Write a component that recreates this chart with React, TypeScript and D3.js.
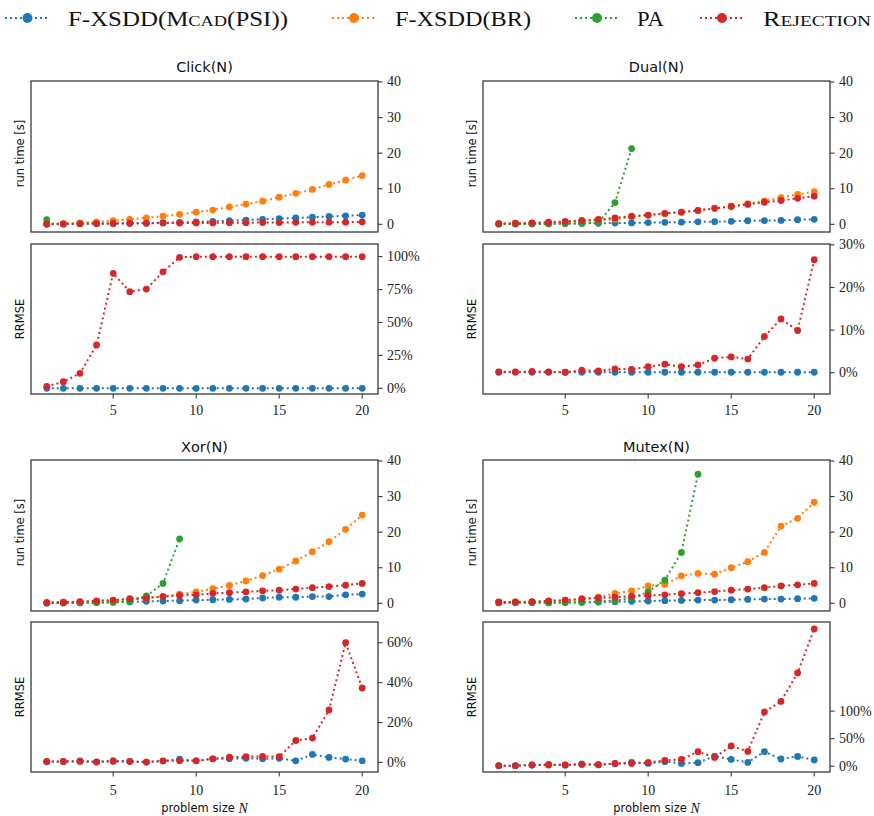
import React from "react";
import * as d3 from "d3";

const problemSizes = [1, 2, 3, 4, 5, 6, 7, 8, 9, 10, 11, 12, 13, 14, 15, 16, 17, 18, 19, 20];
const xTicks = [5, 10, 15, 20];
const runtimeTicks = [0, 10, 20, 30, 40];

const seriesNames = ["mcad", "br", "pa", "rej"];
const seriesColors = ["#1f77b4", "#ff7f0e", "#2ca02c", "#d62728"];

// Click(N)
const clickRuntimeMcad = [0.02, 0.05, 0.1, 0.15, 0.2, 0.3, 0.35, 0.45, 0.55, 0.7, 0.85, 1.0, 1.2, 1.4, 1.6, 1.8, 2.0, 2.2, 2.4, 2.6];
const clickRuntimeBR = [0.1, 0.2, 0.4, 0.7, 1.0, 1.4, 1.8, 2.3, 2.8, 3.4, 4.0, 4.9, 5.7, 6.5, 7.6, 8.7, 9.8, 11.2, 12.4, 13.7];
const clickRuntimePA = [1.3];
const clickRuntimeRej = [0.1, 0.15, 0.2, 0.2, 0.25, 0.3, 0.3, 0.35, 0.35, 0.4, 0.4, 0.45, 0.45, 0.5, 0.5, 0.55, 0.55, 0.6, 0.6, 0.65];
const clickRrmseMcad = [0, 0, 0, 0, 0, 0, 0, 0, 0, 0, 0, 0, 0, 0, 0, 0, 0, 0, 0, 0];
const clickRrmseRej = [1.5, 5, 11.4, 32.9, 87.3, 73.4, 75.4, 88.5, 99.5, 100, 100, 100, 100, 100, 100, 100, 100, 100, 100, 100];
const clickRrmseTicks = [0, 25, 50, 75, 100];

// Dual(N)
const dualRuntimeMcad = [0.1, 0.1, 0.15, 0.2, 0.2, 0.25, 0.3, 0.35, 0.4, 0.5, 0.55, 0.6, 0.7, 0.75, 0.85, 1.0, 1.05, 1.1, 1.3, 1.4];
const dualRuntimeBR = [0.1, 0.2, 0.3, 0.5, 0.6, 0.9, 1.1, 1.4, 2.1, 2.6, 3.0, 3.4, 3.9, 4.5, 5.1, 5.8, 6.6, 7.5, 8.4, 9.2];
const dualRuntimePA = [0.1, 0.1, 0.1, 0.1, 0.2, 0.3, 0.5, 6.1, 21.3];
const dualRuntimeRej = [0.2, 0.3, 0.4, 0.6, 0.8, 1.1, 1.4, 1.8, 2.3, 2.6, 3.1, 3.4, 3.9, 4.5, 5.0, 5.6, 6.2, 6.7, 7.3, 7.9];
const dualRrmseMcad = [0.1, 0.1, 0.1, 0.1, 0.1, 0.1, 0.1, 0.1, 0.1, 0.1, 0.1, 0.1, 0.1, 0.1, 0.1, 0.1, 0.1, 0.1, 0.1, 0.1];
const dualRrmseRej = [0.2, 0.2, 0.3, 0.2, 0.1, 0.6, 0.4, 0.9, 0.8, 1.4, 2.0, 1.4, 1.8, 3.4, 3.7, 3.2, 8.5, 12.6, 9.9, 26.5];
const dualRrmseTicks = [0, 10, 20, 30];

// Xor(N)
const xorRuntimeMcad = [0.05, 0.1, 0.15, 0.2, 0.3, 0.4, 0.55, 0.65, 0.75, 0.9, 1.0, 1.1, 1.2, 1.5, 1.7, 1.7, 1.9, 1.9, 2.4, 2.6];
const xorRuntimeBR = [0.2, 0.3, 0.4, 0.6, 0.8, 1.1, 1.5, 1.9, 2.6, 3.2, 4.1, 5.0, 6.3, 7.8, 9.6, 11.9, 14.5, 17.3, 20.8, 24.8];
const xorRuntimePA = [0.1, 0.1, 0.1, 0.2, 0.3, 0.6, 2.1, 5.6, 18.1];
const xorRuntimeRej = [0.2, 0.3, 0.5, 0.7, 0.9, 1.3, 1.5, 1.9, 2.2, 2.4, 2.8, 3.0, 3.2, 3.5, 3.7, 4.0, 4.4, 4.7, 5.1, 5.6];
const xorRrmseMcad = [0.3, 0.4, 0.8, 0.3, 0.9, 0.5, 0.2, 0.7, 1.6, 0.8, 1.8, 1.9, 2.1, 1.8, 2.1, 0.8, 4.0, 2.5, 1.7, 0.8];
const xorRrmseRej = [0.5, 0.5, 0.5, 0.2, 0.5, 0.5, 0.2, 0.8, 0.8, 0.8, 1.8, 2.6, 2.9, 3.0, 2.9, 11.0, 12.2, 26.3, 60, 37.3];
const xorRrmseTicks = [0, 20, 40, 60];

// Mutex(N)
const mutexRuntimeMcad = [0.1, 0.15, 0.2, 0.2, 0.25, 0.3, 0.35, 0.45, 0.55, 0.65, 0.75, 0.8, 0.9, 0.9, 1.0, 1.1, 1.2, 1.2, 1.3, 1.4];
const mutexRuntimeBR = [0.3, 0.3, 0.4, 0.6, 0.8, 1.1, 1.7, 2.8, 3.5, 4.9, 5.3, 7.7, 8.4, 8.2, 10.0, 11.7, 14.3, 21.7, 23.9, 28.4];
const mutexRuntimePA = [0.4, 0.3, 0.2, 0.1, 0.2, 0.3, 0.5, 0.8, 1.4, 3.3, 6.5, 14.3, 36.3];
const mutexRuntimeRej = [0.3, 0.4, 0.5, 0.7, 0.9, 1.3, 1.5, 1.7, 2.0, 2.2, 2.4, 2.7, 3.0, 3.3, 3.7, 4.0, 4.4, 4.9, 5.2, 5.6];
const mutexRrmseMcad = [0.9, 0.9, 2.2, 3.3, 2.2, 4, 2.7, 4.5, 6.9, 5.1, 8.2, 5.1, 6.4, 18.5, 12.4, 6.9, 26.4, 13.1, 17.8, 11.3];
const mutexRrmseRej = [0.9, 0.9, 2.2, 2.2, 2.2, 3.3, 2.7, 5.1, 5.1, 6.9, 10.5, 12.4, 26.4, 16, 36.7, 26.9, 98.5, 117.8, 169.5, 249.5];
const mutexRrmseTicks = [0, 50, 100];

const panels = [
  {
    title: "Click(N)", col: 0, row: 0,
    runtime: [clickRuntimeMcad, clickRuntimeBR, clickRuntimePA, clickRuntimeRej],
    rrmse: [clickRrmseMcad, null, null, clickRrmseRej],
    rrmseDomain: [-4.3, 109.6], rrmseTicks: clickRrmseTicks,
  },
  {
    title: "Dual(N)", col: 1, row: 0,
    runtime: [dualRuntimeMcad, dualRuntimeBR, dualRuntimePA, dualRuntimeRej],
    rrmse: [dualRrmseMcad, null, null, dualRrmseRej],
    rrmseDomain: [-5.0, 30.2], rrmseTicks: dualRrmseTicks,
  },
  {
    title: "Xor(N)", col: 0, row: 1,
    runtime: [xorRuntimeMcad, xorRuntimeBR, xorRuntimePA, xorRuntimeRej],
    rrmse: [xorRrmseMcad, null, null, xorRrmseRej],
    rrmseDomain: [-4.8, 70.4], rrmseTicks: xorRrmseTicks,
  },
  {
    title: "Mutex(N)", col: 1, row: 1,
    runtime: [mutexRuntimeMcad, mutexRuntimeBR, mutexRuntimePA, mutexRuntimeRej],
    rrmse: [mutexRrmseMcad, null, null, mutexRrmseRej],
    rrmseDomain: [-10.5, 262], rrmseTicks: mutexRrmseTicks,
  },
];

const cols = [{ x0: 31, x1: 378 }, { x0: 483, x1: 830 }];
const rows = [
  { rtTop: 81, rtBot: 232, rrTop: 244, rrBot: 394, titleY: 67, tickY: 410, xlabelY: null as number | null },
  { rtTop: 460, rtBot: 611, rrTop: 622, rrBot: 772, titleY: 447, tickY: 790, xlabelY: 808 },
];

const SANS = "'DejaVu Sans', sans-serif";
const SERIF = "'Liberation Serif', 'DejaVu Serif', serif";
const SPINE = "#3a3a3a";

function Series({ values, color, x, y, clipId }: any) {
  const pts = values.map((v: number, i: number) => [problemSizes[i], v] as [number, number]);
  const line = d3.line<[number, number]>().x((d) => x(d[0])).y((d) => y(d[1]));
  return (
    <g clipPath={`url(#${clipId})`}>
      <path d={line(pts) || ""} fill="none" stroke={color} strokeWidth={2} strokeDasharray="2 3" />
      {pts.map((p, i) => (
        <circle key={i} cx={x(p[0])} cy={y(p[1])} r={3.4} fill={color} />
      ))}
    </g>
  );
}

function Panel({ p }: any) {
  const c = cols[p.col];
  const r = rows[p.row];
  const x = d3.scaleLinear().domain([0.05, 20.95]).range([c.x0, c.x1]);
  const yRt = d3.scaleLinear().domain([-2.16, 40.28]).range([r.rtBot, r.rtTop]);
  const yRr = d3.scaleLinear().domain(p.rrmseDomain).range([r.rrBot, r.rrTop]);
  const id = `p${p.col}${p.row}`;
  const cx = (c.x0 + c.x1) / 2;
  return (
    <g>
      <defs>
        <clipPath id={`${id}rt`}>
          <rect x={c.x0 - 4} y={r.rtTop} width={c.x1 - c.x0 + 4} height={r.rtBot - r.rtTop} />
        </clipPath>
        <clipPath id={`${id}rr`}>
          <rect x={c.x0} y={r.rrTop} width={c.x1 - c.x0} height={r.rrBot - r.rrTop} />
        </clipPath>
      </defs>
      <text x={cx} y={r.titleY} textAnchor="middle" dominantBaseline="central" fontFamily={SANS} fontSize={14.5} fill="#111">
        {p.title}
      </text>
      {/* runtime */}
      {p.runtime.map((vals: number[] | null, i: number) =>
        vals ? <Series key={i} values={vals} color={seriesColors[i]} x={x} y={yRt} clipId={`${id}rt`} /> : null
      )}
      <rect x={c.x0} y={r.rtTop} width={c.x1 - c.x0} height={r.rtBot - r.rtTop} fill="none" stroke={SPINE} strokeWidth={1.3} />
      {runtimeTicks.map((t) => (
        <g key={t}>
          <line x1={c.x1} x2={c.x1 + 4.5} y1={yRt(t)} y2={yRt(t)} stroke={SPINE} strokeWidth={1.1} />
          <text x={c.x1 + 9} y={yRt(t)} dominantBaseline="central" fontFamily={SERIF} fontSize={14} fill="#222">
            {t}
          </text>
        </g>
      ))}
      <text
        transform={`translate(${c.x0 - 11},${(r.rtTop + r.rtBot) / 2 - 3}) rotate(-90)`}
        textAnchor="middle" dominantBaseline="central" fontFamily={SANS} fontSize={11.5} fill="#111"
      >
        run time [s]
      </text>
      {/* rrmse */}
      {p.rrmse.map((vals: number[] | null, i: number) =>
        vals ? <Series key={i} values={vals} color={seriesColors[i]} x={x} y={yRr} clipId={`${id}rr`} /> : null
      )}
      <rect x={c.x0} y={r.rrTop} width={c.x1 - c.x0} height={r.rrBot - r.rrTop} fill="none" stroke={SPINE} strokeWidth={1.3} />
      {p.rrmseTicks.map((t: number) => (
        <g key={t}>
          <line x1={c.x1} x2={c.x1 + 4.5} y1={yRr(t)} y2={yRr(t)} stroke={SPINE} strokeWidth={1.1} />
          <text x={c.x1 + 9} y={yRr(t)} dominantBaseline="central" fontFamily={SERIF} fontSize={14} fill="#222">
            {t}%
          </text>
        </g>
      ))}
      <text
        transform={`translate(${c.x0 - 11},${(r.rrTop + r.rrBot) / 2})rotate(-90)`}
        textAnchor="middle" dominantBaseline="central" fontFamily={SANS} fontSize={11.5} fill="#111"
      >
        RRMSE
      </text>
      {xTicks.map((t) => (
        <g key={t}>
          <line x1={x(t)} x2={x(t)} y1={r.rrBot} y2={r.rrBot + 4.5} stroke={SPINE} strokeWidth={1.1} />
          <text x={x(t)} y={r.tickY} textAnchor="middle" dominantBaseline="central" fontFamily={SERIF} fontSize={14} fill="#222">
            {t}
          </text>
        </g>
      ))}
      {r.xlabelY !== null && (
        <text x={cx} y={r.xlabelY} textAnchor="middle" dominantBaseline="central" fontFamily={SANS} fontSize={11.5} fill="#111">
          problem size <tspan fontFamily={SERIF} fontStyle="italic" fontSize={14}>N</tspan>
        </text>
      )}
    </g>
  );
}

const legendItems = [
  { h0: 5, h1: 50, tx: 68, tw: 220 },
  { h0: 332, h1: 376, tx: 395, tw: 136 },
  { h0: 575, h1: 619, tx: 637, tw: 27 },
  { h0: 700, h1: 744, tx: 763, tw: 108 },
];

function LegendLabel({ i }: { i: number }) {
  const sc = 15.5;
  if (i === 0)
    return (
      <>
        F-XSDD(M<tspan fontSize={sc}>CAD</tspan>(PSI))
      </>
    );
  if (i === 1) return <>F-XSDD(BR)</>;
  if (i === 2) return <>PA</>;
  return (
    <>
      R<tspan fontSize={sc}>EJECTION</tspan>
    </>
  );
}

export default function App() {
  const ly = 18;
  return (
    <svg width={874} height={816} style={{ position: "absolute", left: 0, top: 0, background: "#fff" }}>
      <rect x={0} y={0} width={874} height={816} fill="#fff" />
      {legendItems.map((it, i) => (
        <g key={seriesNames[i]}>
          <line x1={it.h0} x2={it.h1} y1={ly} y2={ly} stroke={seriesColors[i]} strokeWidth={2.2} strokeDasharray="2 3" />
          <circle cx={(it.h0 + it.h1) / 2} cy={ly} r={5} fill={seriesColors[i]} />
          <text
            x={it.tx} y={ly + 7.5} fontFamily={SERIF} fontSize={21} fill="#111"
            textLength={it.tw} lengthAdjust="spacingAndGlyphs"
          >
            <LegendLabel i={i} />
          </text>
        </g>
      ))}
      {panels.map((p) => (
        <Panel key={p.title} p={p} />
      ))}
    </svg>
  );
}
